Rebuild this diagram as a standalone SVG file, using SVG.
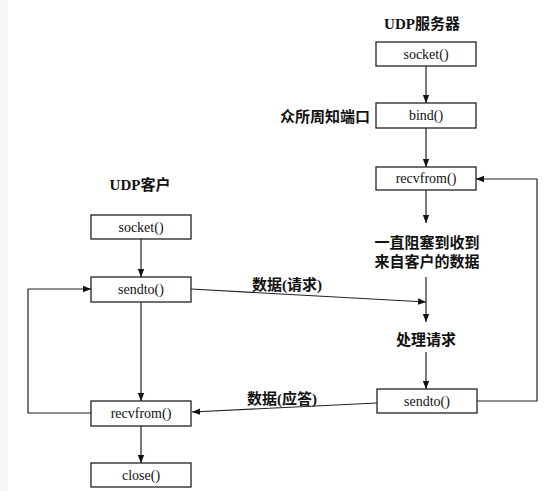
<svg xmlns="http://www.w3.org/2000/svg" width="557" height="491" viewBox="0 0 557 491">
<style>
.box{fill:#fff;stroke:#222;stroke-width:1.3}
.fn{font-family:"Liberation Serif","Times New Roman",serif;font-size:14px;fill:#111;text-anchor:middle}
.cj{font-family:"Liberation Serif","Noto Sans CJK SC",serif;font-size:15px;font-weight:bold;fill:#111}
.ln{fill:none;stroke:#222;stroke-width:1.2}
</style>
<defs>
<marker id="ah" viewBox="0 0 10 10" refX="10" refY="5" markerWidth="8" markerHeight="8" markerUnits="userSpaceOnUse" orient="auto">
<path d="M0,1 L10,5 L0,9 z" fill="#111"/>
</marker>
</defs>
<rect x="0" y="0" width="8" height="491" fill="#f6f6f6"/>
<g id="titles">
<text class="cj" x="422" y="29" text-anchor="middle">UDP服务器</text>
<text class="cj" x="140" y="190" text-anchor="middle">UDP客户</text>
</g>
<g id="connectors">
<line class="ln" x1="426" y1="66" x2="426" y2="103" marker-end="url(#ah)"/>
<line class="ln" x1="426" y1="128" x2="426" y2="167" marker-end="url(#ah)"/>
<line class="ln" x1="426" y1="190" x2="426" y2="223" marker-end="url(#ah)"/>
<line class="ln" x1="426" y1="277" x2="426" y2="322" marker-end="url(#ah)"/>
<line class="ln" x1="426" y1="352" x2="426" y2="389" marker-end="url(#ah)"/>
<polyline class="ln" points="476,401 537,401 537,179 476,179" marker-end="url(#ah)"/>
<line class="ln" x1="141" y1="239" x2="141" y2="277" marker-end="url(#ah)"/>
<line class="ln" x1="141" y1="302" x2="141" y2="401" marker-end="url(#ah)"/>
<line class="ln" x1="141" y1="426" x2="141" y2="463" marker-end="url(#ah)"/>
<polyline class="ln" points="91,413 28,413 28,289 91,289" marker-end="url(#ah)"/>
<line class="ln" x1="191" y1="289" x2="426" y2="302" marker-end="url(#ah)"/>
<line class="ln" x1="377" y1="403" x2="192" y2="412" marker-end="url(#ah)"/>
<text class="cj" x="252" y="290">数据(请求)</text>
<text class="cj" x="247" y="404">数据(应答)</text>
</g>
<g id="s_socket"><rect class="box" x="376" y="42" width="100" height="24"/><text class="fn" x="426" y="59">socket()</text></g>
<g id="s_bind"><rect class="box" x="376" y="103" width="100" height="25"/><text class="fn" x="426" y="120">bind()</text>
<text class="cj" x="370" y="122" text-anchor="end">众所周知端口</text></g>
<g id="s_recvfrom"><rect class="box" x="376" y="167" width="100" height="23"/><text class="fn" x="426" y="183">recvfrom()</text></g>
<g id="s_block"><text class="cj" x="427" y="248" text-anchor="middle">一直阻塞到收到</text><text class="cj" x="427" y="267" text-anchor="middle">来自客户的数据</text></g>
<g id="s_process"><text class="cj" x="426" y="345" text-anchor="middle">处理请求</text></g>
<g id="s_sendto"><rect class="box" x="377" y="389" width="100" height="24"/><text class="fn" x="427" y="406">sendto()</text></g>
<g id="c_socket"><rect class="box" x="91" y="215" width="100" height="24"/><text class="fn" x="141" y="232">socket()</text></g>
<g id="c_sendto"><rect class="box" x="91" y="277" width="100" height="25"/><text class="fn" x="141" y="294">sendto()</text></g>
<g id="c_recvfrom"><rect class="box" x="91" y="401" width="100" height="25"/><text class="fn" x="141" y="418">recvfrom()</text></g>
<g id="c_close"><rect class="box" x="91" y="463" width="100" height="24"/><text class="fn" x="141" y="480">close()</text></g>
</svg>
